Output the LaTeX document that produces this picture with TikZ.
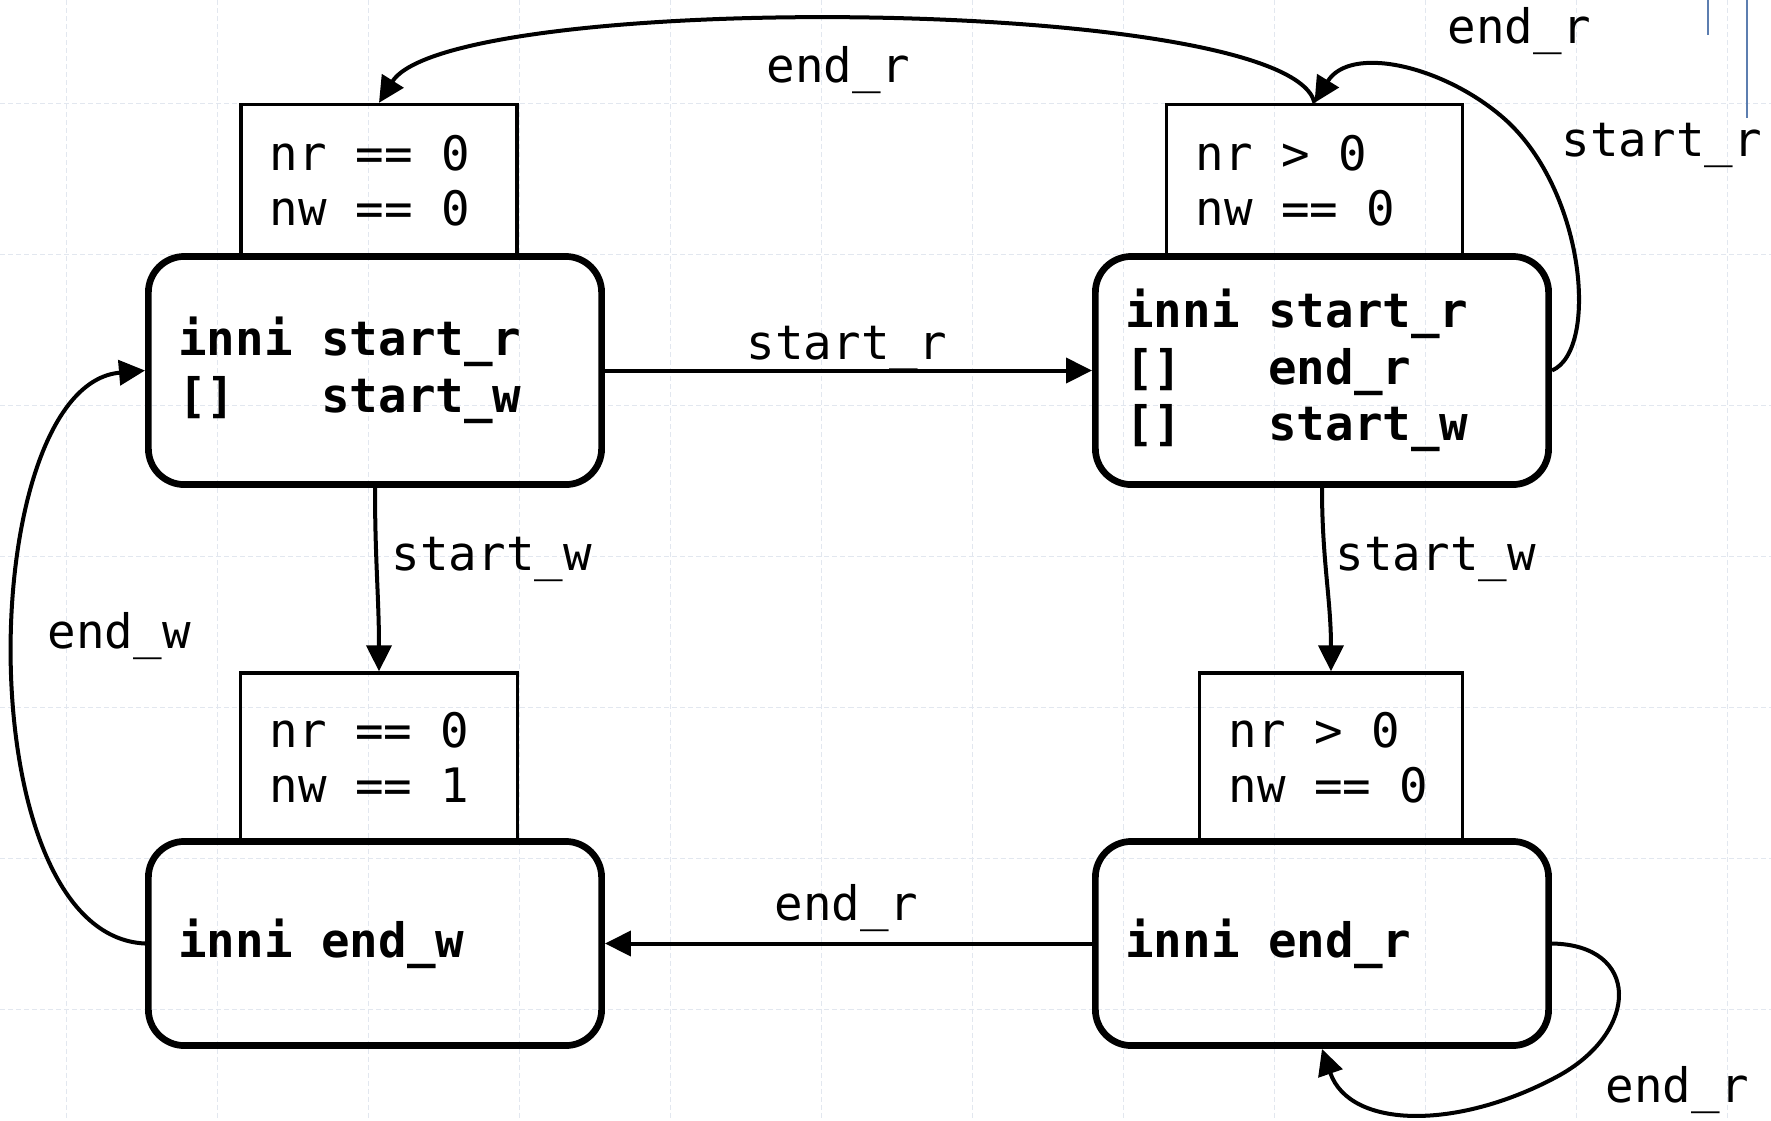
\documentclass[tikz,border=0pt]{standalone}
\usepackage{fontspec}
\setmonofont{DejaVu Sans Mono}
\usetikzlibrary{arrows.meta}

\definecolor{gridgray}{RGB}{226,231,239}
\definecolor{markblue}{RGB}{92,126,176}

% monospaced text with full-width spaces
\newcommand{\codefont}{\ttfamily\fontsize{13.5}{15.7}\selectfont
  \spaceskip=0.602em\relax\xspaceskip=0.602em\relax}
\newcommand{\statefont}{\ttfamily\bfseries\fontsize{13.5}{16.1}\selectfont
  \spaceskip=0.602em\relax\xspaceskip=0.602em\relax}

\begin{document}
\begin{tikzpicture}[x=0.01cm, y=-0.01cm,
  font=\codefont,
  gridline/.style={draw=gridgray, line width=0.01cm, dash pattern=on 0.05cm off 0.03cm},
  state/.style={draw, line width=0.067cm, rounded corners=0.36cm, minimum width=4.53cm,
    text width=3.93cm, inner xsep=0.3cm, align=flush left, font=\statefont},
  guard/.style={draw, line width=0.033cm, inner xsep=0.29cm, inner ysep=0.05cm, align=flush left},
  lbl/.style={anchor=base west, inner sep=0pt},
  trans/.style={line width=0.04cm, -{Triangle[length=0.26cm,width=0.25cm]}}]

 \useasboundingbox (0,0) rectangle (1771,1120);

 % background grid
 \foreach \gx in {66,217,...,1727}
   \draw[gridline] (\gx,0) -- (\gx,1120);
 \foreach \gy in {103,254,...,1009}
   \draw[gridline] (0,\gy) -- (1771,\gy);

 % guards
 \node[guard, text width=2.18cm, minimum height=1.52cm] (g1) at (379,180.5) {nr == 0\\nw == 0};
 \node[guard, text width=2.38cm, minimum height=1.52cm] (g2) at (1314.5,180.5) {nr > 0\\nw == 0};
 \node[guard, text width=2.19cm, minimum height=1.68cm, text depth=0.55cm] (g3) at (379,757) {nr == 0\\nw == 1};
 \node[guard, text width=2.05cm, minimum height=1.68cm, text depth=0.55cm] (g4) at (1331,757) {nr > 0\\nw == 0};

 % states
 \node[state, minimum height=2.28cm] (s1) at (375,370.5) {inni start\_r\\{[]}\ \ \ start\_w};
 \node[state, minimum height=2.28cm] (s2) at (1322,370.5) {inni start\_r\\{[]}\ \ \ end\_r\\{[]}\ \ \ start\_w};
 \node[state, minimum height=2.04cm] (s3) at (375,943.5) {inni end\_w};
 \node[state, minimum height=2.04cm] (s4) at (1322,943.5) {inni end\_r};

 % transitions
 \draw[trans] (s1) -- (s2);
 \draw[trans] (s4) -- (s3);
 \draw[trans] (s1.south) to[out=-90,in=90] (g3.north);
 \draw[trans] (s2.south) to[out=-90,in=90] (g4.north);
 \draw[trans] (g2.north) .. controls (1290,-5) and (450,-10) .. (g1.north);
 \draw[trans] (s2.east) .. controls (1600,350) and (1585,185) .. (1500,115)
   .. controls (1440,65) and (1350,45) .. (g2.north);
 \draw[trans] (s3.west) .. controls (-35,935) and (-25,385) .. (s1.west);
 \draw[trans] (s4.east) .. controls (1640,945) and (1640,1030) .. (1560,1075)
   .. controls (1460,1130) and (1350,1130) .. (s4.south);

 % labels
 \node[lbl] (lab-top) at (766,82) {end\_r};
 \node[lbl] (lab-loop-end) at (1447,43) {end\_r};
 \node[lbl] (lab-loop-start) at (1561,156) {start\_r};
 \node[lbl] (lab-mid) at (746,359) {start\_r};
 \node[lbl] (lab-left) at (391,570) {start\_w};
 \node[lbl] (lab-right) at (1335,570) {start\_w};
 \node[lbl] (lab-back) at (47,648) {end\_w};
 \node[lbl] (lab-bottom) at (774,920) {end\_r};
 \node[lbl] (lab-self) at (1605,1102) {end\_r};

 % marks at the upper edge
 \draw[markblue, line width=0.027cm] (1708,0) -- (1708,35);
 \draw[markblue, line width=0.027cm] (1747,0) -- (1747,118);

\end{tikzpicture}
\end{document}
